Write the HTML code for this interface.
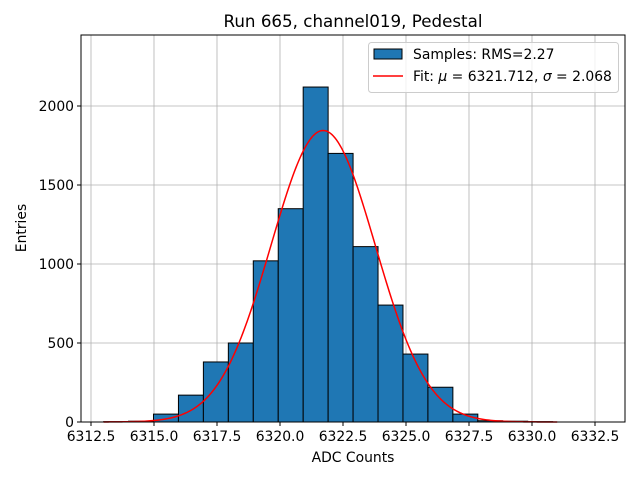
<!DOCTYPE html>
<html><head><meta charset="utf-8"><style>
body{margin:0;background:#fff}
svg text{font-family:"DejaVu Sans","Liberation Sans",sans-serif;fill:#000}
</style></head><body>
<svg id="c" width="640" height="480" xmlns="http://www.w3.org/2000/svg">
<rect width="640" height="480" fill="#fff"/>
<g id="grid"></g><g id="bars"></g><g id="fit"></g><g id="axes"></g>
</svg>
<script>
const binEdges=[6313.0,6313.99,6314.98,6315.97,6316.96,6317.95,6318.94,6319.93,6320.92,6321.91,6322.9,6323.89,6324.88,6325.87,6326.86,6327.85,6328.84,6329.83,6330.82];
const binCounts=[2,5,50,170,380,500,1020,1350,2120,1700,1110,740,430,220,50,8,5,2];
const xTicks=[6312.5,6315.0,6317.5,6320.0,6322.5,6325.0,6327.5,6330.0,6332.5];
const yTicks=[0,500,1000,1500,2000];
const fitMu=6321.712, fitSigma=2.068, fitAmp=1845;
const L=81,R=625,T=35,B=422;
const X=v=>91+(v-6312.5)*25.2;
const Y=v=>B-v*0.158;
const NS="http://www.w3.org/2000/svg";
function mk(p,t,a){const e=document.createElementNS(NS,t);for(const k in a)e.setAttribute(k,a[k]);document.getElementById(p).appendChild(e);return e;}
xTicks.forEach(t=>{const g=mk('grid','line',{x1:X(t),x2:X(t),y1:T,y2:B,stroke:'#b0b0b0','stroke-width':0.8});
});
yTicks.forEach(t=>{const g=mk('grid','line',{x1:L,x2:R,y1:Y(t),y2:Y(t),stroke:'#b0b0b0','stroke-width':0.8});
});
binCounts.forEach((c,i)=>{const x0=X(binEdges[i]),x1=X(binEdges[i+1]);
const r=mk('bars','rect',{x:x0,y:Y(c),width:x1-x0,height:B-Y(c),fill:'#1f77b4',stroke:'#000','stroke-width':1});
});
let pts=[];for(let i=0;i<=300;i++){const v=6313+18*i/300;
pts.push(X(v).toFixed(2)+','+Y(fitAmp*Math.exp(-0.5*((v-fitMu)/fitSigma)**2)).toFixed(2));}
const fl=mk('fit','polyline',{points:pts.join(' '),fill:'none',stroke:'red','stroke-width':1.5});

const fr=mk('axes','rect',{x:L,y:T,width:R-L,height:B-T,fill:'none',stroke:'#000','stroke-width':1});

xTicks.forEach(t=>{mk('axes','line',{x1:X(t),x2:X(t),y1:B,y2:B+4,stroke:'#000'});
const tx=mk('axes','text',{x:X(t),y:B+19,'text-anchor':'middle','font-size':13.9});tx.textContent=t.toFixed(1);
});
yTicks.forEach(t=>{mk('axes','line',{x1:L-4,x2:L,y1:Y(t),y2:Y(t),stroke:'#000'});
const tx=mk('axes','text',{x:L-7,y:Y(t)+5,'text-anchor':'end','font-size':13.9});tx.textContent=t;
});
</script>
<svg width="640" height="480" style="position:absolute;left:0;top:0" xmlns="http://www.w3.org/2000/svg">
<text x="353" y="27" text-anchor="middle" font-size="16.7">Run 665, channel019, Pedestal</text>
<text x="353" y="462" text-anchor="middle" font-size="13.9">ADC Counts</text>
<text transform="translate(26,228) rotate(-90)" text-anchor="middle" font-size="13.9">Entries</text>
<g>
<rect x="368.5" y="42.5" width="250" height="50" rx="3" fill="#fff" fill-opacity="0.8" stroke="#ccc"/>
<rect x="374" y="49" width="28" height="10" fill="#1f77b4" stroke="#000"/>
<text x="413" y="59" font-size="13.9">Samples: RMS=2.27</text>
<line x1="373" x2="403" y1="76" y2="76" stroke="red" stroke-width="1.5"/>
<text x="413" y="81" font-size="13.9">Fit: <tspan font-style="italic">μ</tspan> = 6321.712, <tspan font-style="italic">σ</tspan> = 2.068</text>
</g>
</svg>
</body></html>
